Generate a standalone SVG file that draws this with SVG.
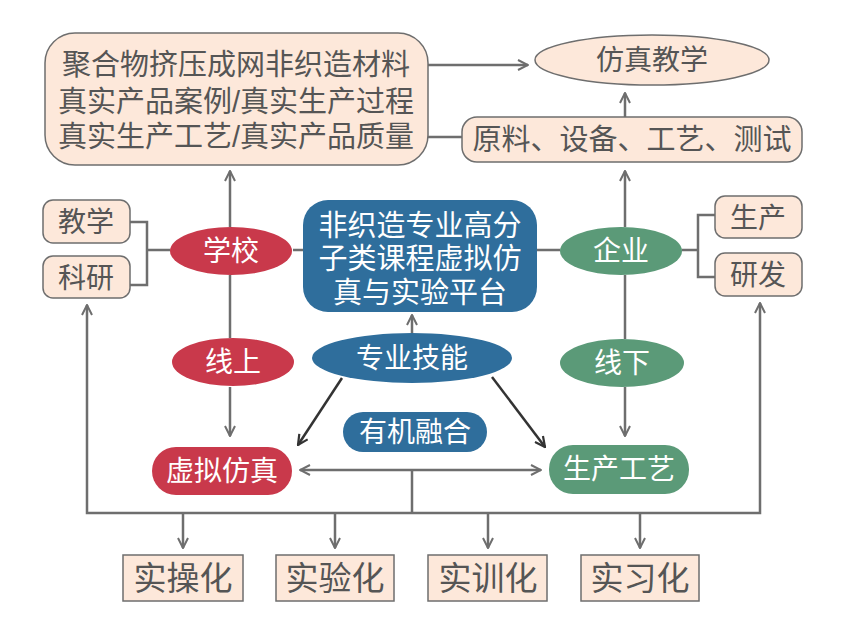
<svg xmlns="http://www.w3.org/2000/svg" width="852" height="636" viewBox="0 0 852 636">
<defs>
<style>
.peach{fill:#fde8da;stroke:#6e6e6e;stroke-width:1.5}
.red{fill:#c9394b}
.blue{fill:#2f6e9c}
.green{fill:#5b9a78}
.t{font-family:"Liberation Sans","Noto Sans CJK SC",sans-serif;fill:#555;text-anchor:middle}
.w{font-family:"Liberation Sans","Noto Sans CJK SC",sans-serif;fill:#fff;text-anchor:middle}
.c{fill:none;stroke:#6e6e6e;stroke-width:2.5}
.d{fill:none;stroke:#333;stroke-width:2.5}
</style>
<marker id="a" viewBox="0 0 12 12" refX="11" refY="6" markerWidth="12" markerHeight="12" markerUnits="userSpaceOnUse" orient="auto-start-reverse">
<path d="M1,1 L11,6 L1,11" fill="none" stroke="#6e6e6e" stroke-width="2"/>
</marker>
<marker id="ad" viewBox="0 0 12 12" refX="11" refY="6" markerWidth="12" markerHeight="12" markerUnits="userSpaceOnUse" orient="auto">
<path d="M1,1 L11,6 L1,11" fill="none" stroke="#333" stroke-width="2.2"/>
</marker>
</defs>
<rect width="852" height="636" fill="#fff"/>
<g id="connectors">
<path class="c" d="M428,65 H528" marker-end="url(#a)"/>
<path class="c" d="M428,137 H462"/>
<path class="c" d="M625,117 V93" marker-end="url(#a)"/>
<path class="c" d="M230,227 V171" marker-end="url(#a)"/>
<path class="c" d="M625,227 V171" marker-end="url(#a)"/>
<path class="c" d="M130,222 H147 V285 H130 M147,250 H170"/>
<path class="c" d="M293,250 H303 M537,250 H560"/>
<path class="c" d="M682,250 H698 M715,215 H698 V277 H715"/>
<path class="c" d="M230,275 V338"/>
<path class="c" d="M625,275 V339"/>
<path class="c" d="M230,387 V436" marker-end="url(#a)"/>
<path class="c" d="M625,387 V436" marker-end="url(#a)"/>
<path class="c" d="M412,333 V315" marker-end="url(#a)"/>
<path class="d" d="M342,378 L298,445" marker-end="url(#ad)"/>
<path class="d" d="M492,377 L545,447" marker-end="url(#ad)"/>
<path class="c" d="M300,470 H541" marker-start="url(#a)" marker-end="url(#a)"/>
<path class="c" d="M412,470 V513"/>
<path class="c" d="M87,305 V513 H760 V303" marker-start="url(#a)" marker-end="url(#a)"/>
<path class="c" d="M183,513 V548" marker-end="url(#a)"/>
<path class="c" d="M335,513 V548" marker-end="url(#a)"/>
<path class="c" d="M488,513 V548" marker-end="url(#a)"/>
<path class="c" d="M640,513 V548" marker-end="url(#a)"/>
</g>
<g id="materials">
<rect class="peach" x="45" y="33" width="383" height="132" rx="30"/>
<text class="t" font-size="29"><tspan x="236" y="75">聚合物挤压成网非织造材料</tspan><tspan x="236" y="112">真实产品案例/真实生产过程</tspan><tspan x="236" y="147">真实生产工艺/真实产品质量</tspan></text>
</g>
<g id="teaching">
<ellipse class="peach" cx="652" cy="60" rx="117" ry="25"/>
<text class="t" font-size="28" x="652" y="70">仿真教学</text>
</g>
<g id="raw">
<rect class="peach" x="462" y="117" width="340" height="45" rx="15"/>
<text class="t" font-size="29" x="632" y="150">原料、设备、工艺、测试</text>
</g>
<g id="jiaoxue">
<rect class="peach" x="43" y="200" width="87" height="43" rx="10"/>
<text class="t" font-size="28" x="86" y="232">教学</text>
</g>
<g id="keyan">
<rect class="peach" x="43" y="256" width="87" height="42" rx="10"/>
<text class="t" font-size="28" x="86" y="288">科研</text>
</g>
<g id="school">
<ellipse class="red" cx="231" cy="251" rx="61" ry="24"/>
<text class="w" font-size="28" x="231" y="261">学校</text>
</g>
<g id="platform">
<rect class="blue" x="303" y="200" width="234" height="112" rx="25"/>
<text class="w" font-size="29"><tspan x="420" y="236">非织造专业高分</tspan><tspan x="420" y="269">子类课程虚拟仿</tspan><tspan x="420" y="303">真与实验平台</tspan></text>
</g>
<g id="enterprise">
<ellipse class="green" cx="621" cy="251" rx="61" ry="24"/>
<text class="w" font-size="28" x="621" y="261">企业</text>
</g>
<g id="shengchan">
<rect class="peach" x="715" y="196" width="87" height="42" rx="10"/>
<text class="t" font-size="28" x="758" y="228">生产</text>
</g>
<g id="yanfa">
<rect class="peach" x="715" y="253" width="87" height="43" rx="10"/>
<text class="t" font-size="28" x="758" y="285">研发</text>
</g>
<g id="online">
<ellipse class="red" cx="233" cy="362" rx="61" ry="24"/>
<text class="w" font-size="28" x="233" y="372">线上</text>
</g>
<g id="skills">
<ellipse class="blue" cx="412" cy="358" rx="100" ry="25"/>
<text class="w" font-size="28" x="412" y="368">专业技能</text>
</g>
<g id="offline">
<ellipse class="green" cx="622" cy="363" rx="62" ry="24"/>
<text class="w" font-size="28" x="622" y="373">线下</text>
</g>
<g id="fusion">
<rect class="blue" x="343" y="412" width="144" height="40" rx="20"/>
<text class="w" font-size="28" x="415" y="442">有机融合</text>
</g>
<g id="virtual">
<rect class="red" x="152" y="447" width="140" height="48" rx="24"/>
<text class="w" font-size="28" x="222" y="481">虚拟仿真</text>
</g>
<g id="process">
<rect class="green" x="549" y="445" width="140" height="49" rx="24"/>
<text class="w" font-size="28" x="619" y="479">生产工艺</text>
</g>
<g id="shicao">
<rect class="peach" x="123" y="555" width="120" height="46"/>
<text class="t" font-size="33" x="183" y="590">实操化</text>
</g>
<g id="shiyan">
<rect class="peach" x="276" y="555" width="118" height="46"/>
<text class="t" font-size="33" x="335" y="590">实验化</text>
</g>
<g id="shixun">
<rect class="peach" x="428" y="555" width="119" height="46"/>
<text class="t" font-size="33" x="488" y="590">实训化</text>
</g>
<g id="shixi">
<rect class="peach" x="581" y="555" width="118" height="46"/>
<text class="t" font-size="33" x="640" y="590">实习化</text>
</g>
</svg>
